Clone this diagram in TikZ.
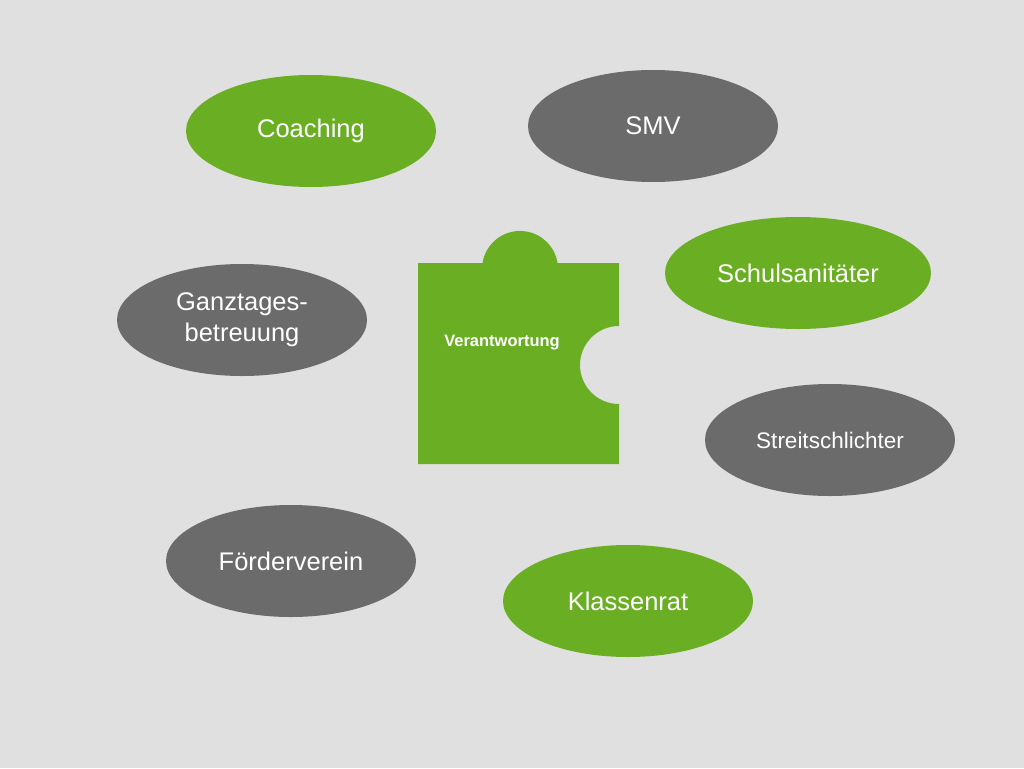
\documentclass[tikz,border=0pt]{standalone}
\usepackage{fontspec}
\setmainfont{Liberation Sans}
\usetikzlibrary{shapes.geometric}
\definecolor{gr}{HTML}{6AAF23}
\definecolor{gy}{HTML}{6B6B6B}
\definecolor{bg}{HTML}{E0E0E0}
\begin{document}
\begin{tikzpicture}[x=1pt,y=-1pt,
 ov/.style={ellipse,minimum width=250pt,minimum height=112pt,inner sep=0pt,text=white,font=\fontsize{25.5}{31}\selectfont,align=center}]
\fill[bg] (0,0) rectangle (1024,768);
\useasboundingbox (0,0) rectangle (1024,768);
\node[ov,fill=gr] (coach) at (311,131) {Coaching};
\node[ov,fill=gy] (smv) at (653,126) {SMV};
\node[ov,fill=gr,minimum width=266pt] (san) at (798,273) {Schulsanitäter};
\node[ov,fill=gy] (ganz) at (242,320) {Ganztages-\\betreuung};
\node[ov,fill=gy,font=\fontsize{22.5}{26}\selectfont] (streit) at (830,440) {Streitschlichter};
\node[ov,fill=gy] (foerd) at (291,561) {Förderverein};
\node[ov,fill=gr] (klass) at (628,601) {Klassenrat};
\fill[gr] (418,263) -- (482.5,263) arc[start angle=189,end angle=351,radius=38]
 -- (619,263) -- (619,326) arc[start angle=270,end angle=90,radius=39]
 -- (619,464) -- (418,464) -- cycle;
\node[text=white,font=\bfseries\fontsize{16.5}{18}\selectfont] (ver) at (502,343) {Verantwortung};
\end{tikzpicture}
\end{document}
